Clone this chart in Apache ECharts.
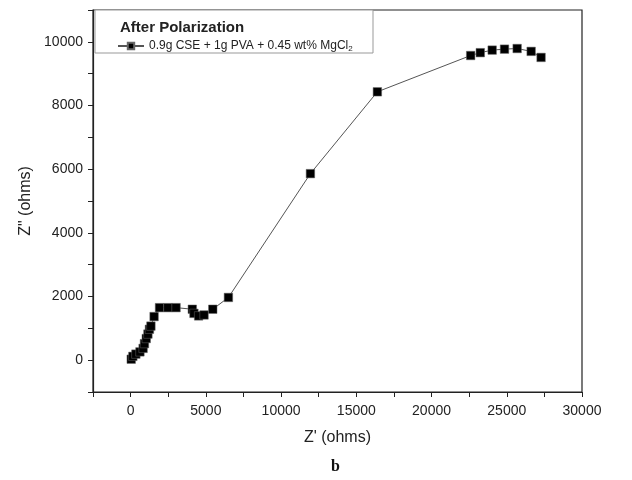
<!DOCTYPE html>
<html>
<head>
<meta charset="utf-8">
<script src="https://cdn.jsdelivr.net/npm/echarts@6/dist/echarts.min.js"></script>
<style>html,body{margin:0;padding:0;background:#fff}#c{width:632px;height:480px}</style>
</head>
<body>
<div id="c"></div>
<script>
// Z' (ohms)
var zReal = [40, 150, 350, 620, 830, 920, 1040, 1150, 1250, 1350, 1560, 1920, 2480, 3020, 4100, 4210, 4520, 4880, 5460, 6500, 11950, 16400, 22600, 23240, 24030, 24850, 25690, 26620, 27280];
// Z'' (ohms)
var zImag = [30, 120, 190, 260, 370, 520, 680, 820, 970, 1070, 1370, 1650, 1650, 1650, 1600, 1470, 1390, 1420, 1600, 1970, 5860, 8430, 9570, 9660, 9740, 9770, 9790, 9700, 9510];
var seriesName = '0.9g CSE + 1g PVA + 0.45 wt% MgCl2';
var titleText = 'After Polarization';
var xName = "Z' (ohms)";
var yName = 'Z" (ohms)';
var panelLabel = 'b';

var pts = zReal.map(function (x, i) { return [x, zImag[i]]; });
var font = 'Liberation Sans, Arial, sans-serif';
var chart = echarts.init(document.getElementById('c'));
chart.setOption({
  animation: false,
  backgroundColor: '#fff',
  grid: { left: 93, right: 50, top: 10, bottom: 88, show: true, borderColor: '#222', borderWidth: 1.2 },
  title: {
    text: titleText, left: 115, top: 15, z: 10,
    textStyle: { fontFamily: font, fontSize: 15, fontWeight: 'bold', color: '#222' }
  },
  legend: {
    left: 112, top: 35, z: 10, itemWidth: 26, itemHeight: 8, itemGap: 4,
    data: [seriesName],
    formatter: function () { return '0.9g CSE + 1g PVA + 0.45 wt% MgCl{s|2}'; },
    textStyle: {
      fontFamily: font, fontSize: 12, color: '#222',
      rich: { s: { fontFamily: font, fontSize: 8, color: '#222', verticalAlign: 'bottom', padding: [6, 0, 0, 0] } }
    }
  },
  graphic: [
    { type: 'rect', z: 5, shape: { x: 95, y: 10, width: 278, height: 43 }, style: { fill: '#fff', stroke: '#999', lineWidth: 1 } },
    { type: 'text', left: 331, top: 459, style: { text: panelLabel, font: 'bold 16px "Liberation Serif", "Times New Roman", serif', fill: '#111' } }
  ],
  xAxis: {
    type: 'value', min: -2500, max: 30000, interval: 2500,
    name: xName, nameLocation: 'middle', nameGap: 38,
    nameTextStyle: { fontFamily: font, fontSize: 16, color: '#222' },
    axisLine: { show: true, onZero: false, lineStyle: { color: '#222', width: 1.2 } },
    axisTick: { show: true, inside: false, length: 5, lineStyle: { color: '#222' } },
    splitLine: { show: false },
    axisLabel: {
      fontFamily: font, fontSize: 14, color: '#222', margin: 12,
      formatter: function (v) { return (v >= 0 && v % 5000 === 0) ? String(v) : ''; }
    }
  },
  yAxis: {
    type: 'value', min: -1000, max: 11000, interval: 1000,
    name: yName, nameLocation: 'middle', nameGap: 52,
    nameTextStyle: { fontFamily: font, fontSize: 16, color: '#222' },
    axisLine: { show: true, onZero: false, lineStyle: { color: '#222', width: 1.2 } },
    axisTick: { show: true, inside: false, length: 5, lineStyle: { color: '#222' } },
    splitLine: { show: false },
    axisLabel: {
      fontFamily: font, fontSize: 14, color: '#222', margin: 10,
      formatter: function (v) { return (v >= 0 && v <= 10000 && v % 2000 === 0) ? String(v) : ''; }
    }
  },
  series: [{
    name: seriesName, type: 'line', data: pts, z: 3,
    symbol: 'rect', symbolSize: 8.5,
    itemStyle: { color: '#000', borderColor: '#666', borderWidth: 0.5 },
    lineStyle: { color: '#555', width: 1 }
  }]
});
</script>
</body>
</html>
